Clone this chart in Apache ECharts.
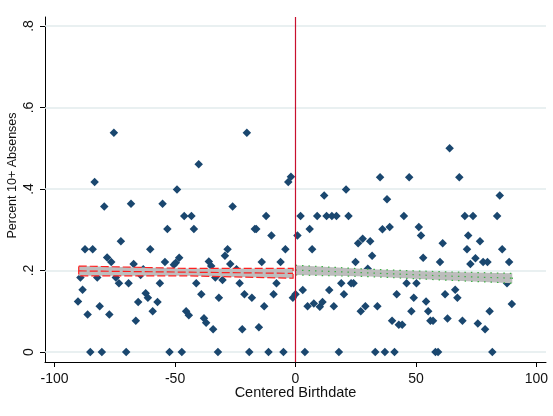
<!DOCTYPE html>
<html>
<head>
<meta charset="utf-8">
<script src="https://cdn.jsdelivr.net/npm/echarts@6/dist/echarts.min.js"></script>
<style>html,body{margin:0;padding:0;background:#fff}#c{width:553px;height:416px}</style>
</head>
<body>
<div id="c"></div>
<script>
// Scatter: centered birthdate vs percent with 10+ absences
var birthdate = [
 -75.4,-40.2,-83.4,-49.2,-79.4,-68.3,-55.2,-46.2,-43.2,-53.2,-42.2,-72.5,-20.2,-3.0,-1.9,-26.1,-12.2,-16.9,-16.3,-10.0,
 -87.4,-84.2,-78.2,-76.5,-60.3,-67.2,-89.3,-82.3,-74.6,-73.3,-69.3,-88.4,-90.3,-81.3,-86.3,-77.3,-64.3,-63.2,-54.2,-48.3,
 -50.5,-49.7,-56.3,-62.2,-61.3,-65.3,-57.3,-59.3,-66.3,-45.4,-44.3,-38.0,-37.1,-34.2,-41.2,-39.1,-36.0,-35.0,-33.3,-31.8,
 -28.2,-29.3,-4.2,-27.1,-24.5,-14.0,-6.2,-30.3,-23.2,-7.9,-21.2,-18.1,-9.1,-13.0,-1.1,-22.1,-15.2,
 -85.2,-80.4,-70.3,-52.3,-47.2,-32.2,-19.2,-11.2,-5.0,
 0.0,0.8,2.1,5.9,9.0,12.9,15.1,17.0,22.0,11.9,21.0,26.0,27.9,31.0,64.0,35.1,47.2,68.0,38.0,84.8,
 45.0,70.3,73.7,83.7,36.1,39.1,51.2,52.1,71.7,61.1,76.6,6.9,31.8,24.9,30.0,3.0,14.0,19.0,23.1,24.1,
 20.1,5.0,7.6,10.1,11.2,15.9,27.1,29.0,71.2,85.8,53.0,60.0,72.6,74.7,77.9,79.7,88.7,46.1,50.2,87.8,
 42.0,49.1,54.2,62.1,66.3,67.2,89.8,34.0,48.1,55.1,80.6,40.1,42.9,44.3,56.0,57.1,63.1,69.3,75.7,78.7,
 3.9,18.0,33.1,37.1,41.1,58.1,59.2,81.7
];
var pctAbsent = [
 .538,.461,.417,.399,.357,.364,.364,.334,.334,.302,.302,.272,.538,.417,.430,.357,.334,.302,.302,.286,
 .252,.252,.232,.221,.252,.216,.183,.183,.183,.169,.169,.153,.124,.112,.092,.092,.189,.203,.221,.231,
 .214,.219,.169,.144,.133,.123,.123,.100,.077,.100,.090,.083,.072,.056,.169,.142,.222,.211,.183,.133,
 .252,.236,.252,.216,.203,.221,.221,.177,.169,.169,.142,.133,.142,.112,.133,.056,.061,
 0,0,0,0,0,0,0,0,0,
 .142,.286,.334,.302,.334,.334,.334,.334,.334,.384,.399,.267,.278,.272,.500,.429,.429,.429,.375,.384,
 .334,.334,.334,.334,.301,.307,.307,.286,.286,.267,.272,.252,.236,.221,.204,.152,.152,.169,.169,.169,
 .142,.112,.119,.111,.123,.112,.100,.112,.252,.252,.231,.221,.216,.230,.221,.221,.221,.169,.169,.169,
 .142,.133,.124,.142,.153,.133,.118,.112,.100,.100,.100,.077,.067,.067,.077,.077,.082,.077,.070,.056,
 0,0,0,0,0,0,0,0
];
// Linear fit with CI, left of cutoff
var leftX   = [-90, -45, -1];
var leftLo  = [.187, .187, .181];
var leftHi  = [.211, .205, .205];
var leftFit = [.199, .196, .193];
// Linear fit with CI, right of cutoff
var rightX   = [0, 31, 60, 90];
var rightLo  = [.189, .185, .177, .169];
var rightHi  = [.213, .203, .197, .193];
var rightFit = [.201, .194, .187, .181];
var cutoff = 0;
var xTicks = [-100, -50, 0, 50, 100];
var yTicks = [0, .2, .4, .6, .8];
var yTickLabels = ['0', '.2', '.4', '.6', '.8'];

var pts = birthdate.map(function (x, i) { return [x, pctAbsent[i]]; });
function zip3(xs, a, b) { return xs.map(function (x, i) { return [x, a[i], b[i]]; }); }
function zip2(xs, a) { return xs.map(function (x, i) { return [x, a[i]]; }); }

function bandRender(band, strokeColor, dash) {
  return function (params, api) {
    if (params.dataIndex !== 0) return;
    var top = [], bot = [];
    for (var i = 0; i < band.length; i++) {
      top.push(api.coord([band[i][0], band[i][2]]));
      bot.unshift(api.coord([band[i][0], band[i][1]]));
    }
    return {
      type: 'polygon',
      shape: { points: top.concat(bot) },
      style: { fill: '#bdbdbd', stroke: strokeColor, lineWidth: 1.2, lineDash: dash }
    };
  };
}

var font = 'Liberation Sans, Arial, sans-serif';
var chart = echarts.init(document.getElementById('c'), null, { renderer: 'canvas' });
var leftBand = zip3(leftX, leftLo, leftHi);
var rightBand = zip3(rightX, rightLo, rightHi);
function yLabelFmt(v) { var i = yTicks.indexOf(+v.toFixed(3)); return i >= 0 ? yTickLabels[i] : ''; }

chart.setOption({
  animation: false,
  backgroundColor: '#fff',
  grid: { left: 45, right: 7, top: 17, bottom: 54, containLabel: false, outerBoundsMode: 'none' },
  xAxis: {
    type: 'value', min: -104, max: 104,
    name: 'Centered Birthdate', nameLocation: 'middle', nameGap: 23, nameMoveOverlap: false,
    nameTextStyle: { fontFamily: font, fontSize: 14.5, color: '#111' },
    axisLine: { show: true, onZero: false, lineStyle: { color: '#000', width: 1 } },
    axisTick: { show: true, length: 5, customValues: xTicks, lineStyle: { color: '#000' } },
    axisLabel: { customValues: xTicks, margin: 10, fontFamily: font, fontSize: 14, color: '#111' },
    splitLine: { show: false }
  },
  yAxis: {
    type: 'value', min: -0.0245, max: 0.822, position: 'left',
    name: 'Percent 10+ Absenses', nameLocation: 'middle', nameGap: 26, nameMoveOverlap: false,
    nameTextStyle: { fontFamily: font, fontSize: 12.5, color: '#111', padding: [0, 0, 0, 28] },
    axisLine: { show: true, onZero: false, lineStyle: { color: '#000', width: 1 } },
    axisTick: { show: true, length: 5, customValues: yTicks, lineStyle: { color: '#000' } },
    axisLabel: {
      customValues: yTicks, rotate: 90, margin: 16, align: 'center', verticalAlign: 'middle',
      fontFamily: font, fontSize: 14, color: '#111', formatter: yLabelFmt
    },
    splitLine: { show: false }
  },
  series: [
    {
      type: 'line', data: [], z: 1, silent: true,
      markLine: {
        silent: true, symbol: 'none', label: { show: false }, z: 1,
        lineStyle: { color: '#e2ebed', type: 'solid', width: 1.5 },
        data: yTicks.map(function (v) { return { yAxis: v }; })
      }
    },
    {
      type: 'scatter', data: pts, symbol: 'diamond', symbolSize: 8.5, z: 2,
      itemStyle: { color: '#1a476f', opacity: 1 }
    },
    {
      type: 'custom', data: [0], z: 3, renderItem: bandRender(leftBand, '#ff2020', [8, 3])
    },
    {
      type: 'custom', data: [0], z: 3, renderItem: bandRender(rightBand, '#3cb043', [1.5, 5])
    },
    {
      type: 'line', data: zip2(leftX, leftFit), symbol: 'none', z: 4,
      lineStyle: { color: '#ff2020', width: 1.2, type: [8, 3] }
    },
    {
      type: 'line', data: zip2(rightX, rightFit), symbol: 'none', z: 4,
      lineStyle: { color: '#3cb043', width: 1.2, type: [1.5, 5] },
      markLine: {
        silent: true, symbol: 'none', label: { show: false }, z: 5,
        lineStyle: { color: '#c8102e', type: 'solid', width: 1.2 },
        data: [{ xAxis: cutoff }]
      }
    }
  ]
});
</script>
</body>
</html>
